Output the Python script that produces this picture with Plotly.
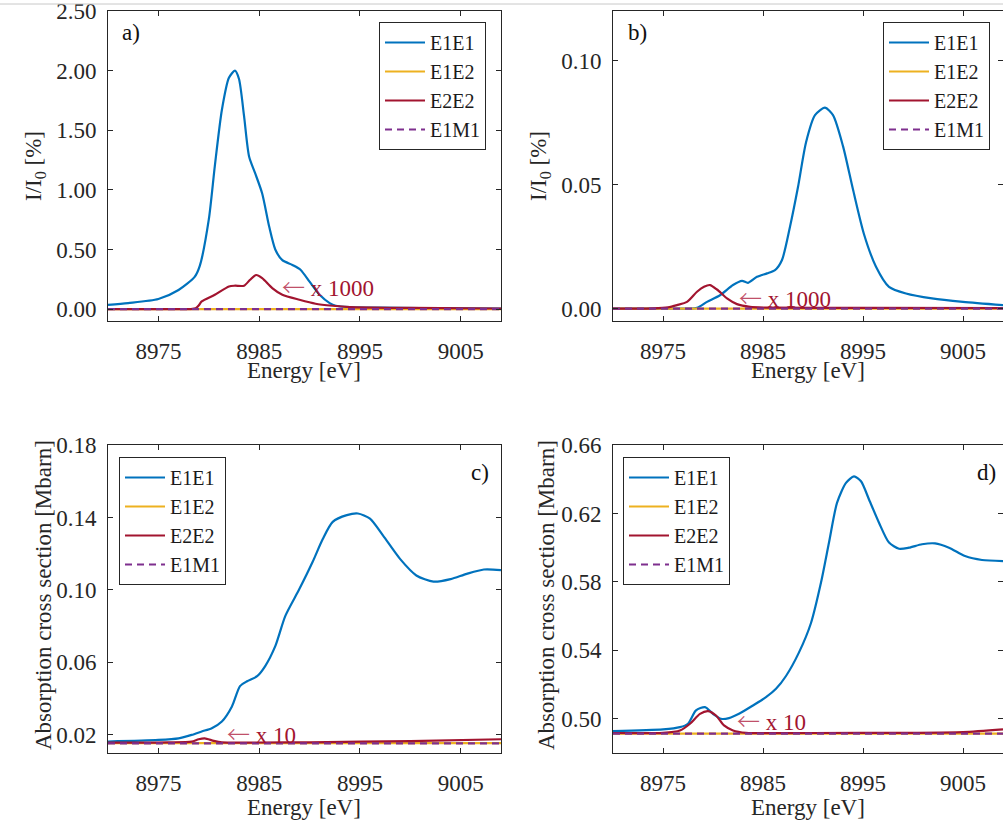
import plotly.graph_objects as go

# ---------------- data ----------------
# Panel a)  I/I0 [%]
a_e1e1_x = [8970, 8972, 8975, 8977, 8978.6, 8979.1, 8980, 8980.6, 8981.3, 8982, 8982.6, 8983,
            8983.5, 8984, 8984.6, 8985.3, 8986, 8986.6, 8987.3, 8988.3, 8989.1, 8990, 8991,
            8992, 8992.6, 8994, 8997, 9001, 9005, 9009]
a_e1e1_y = [0.035, 0.05, 0.084, 0.16, 0.27, 0.36, 0.75, 1.2, 1.67, 1.94, 2.00, 1.93,
            1.62, 1.28, 1.14, 0.97, 0.69, 0.50, 0.41, 0.37, 0.33, 0.23, 0.12,
            0.05, 0.028, 0.017, 0.012, 0.009, 0.007, 0.005]
a_e2e2_x = [8970, 8974, 8977, 8978.2, 8978.7, 8979.0, 8979.3, 8980.6, 8982, 8982.6, 8983.5,
            8984.1, 8984.7, 8985.3, 8986.3, 8987.3, 8989, 8990.6, 8992.3, 8994, 9000, 9009]
a_e2e2_y_x1000 = [0, 0, 0, 0, 0.006, 0.03, 0.064, 0.12, 0.19, 0.196, 0.196,
                  0.246, 0.286, 0.26, 0.176, 0.12, 0.078, 0.045, 0.028, 0.017, 0.01, 0.005]
a_flat_x = [8970, 9009]
a_e1e2_y = [0.0, 0.0]
a_e1m1_y = [0.0, 0.0]

# Panel b)  I/I0 [%]
b_e1e1_x = [8970, 8975, 8977.5, 8978.4, 8979.4, 8980.7, 8982, 8982.9, 8983.5, 8984.4, 8985.4,
            8986.2, 8986.9, 8987.7, 8988.5, 8989.3, 8990.2, 8991.2, 8992, 8993, 8994,
            8995.1, 8996.3, 8997.6, 8999.3, 9001.9, 9005, 9009]
b_e1e1_y = [0, 0, 0, 0.0003, 0.0027, 0.0054, 0.0095, 0.0112, 0.0104, 0.0128, 0.0142,
            0.0155, 0.0196, 0.033, 0.049, 0.067, 0.078, 0.081, 0.078, 0.0655, 0.048,
            0.030, 0.0169, 0.0088, 0.0061, 0.0041, 0.0027, 0.0014]
b_e2e2_x = [8970, 8972, 8974, 8975.5, 8976.4, 8977.4, 8978.4, 8979.1, 8979.7, 8980.4, 8981.4,
            8982.4, 8983.7, 8985.4, 8995, 9009]
b_e2e2_y_x1000 = [0, 0, 0.0001, 0.0005, 0.0014, 0.0027, 0.0068, 0.0088, 0.0095, 0.0077, 0.0041,
                  0.0018, 0.0007, 0.0004, 0.0003, 0.0002]
b_flat_x = [8970, 9009]
b_e1e2_y = [0.0, 0.0]
b_e1m1_y = [0.0, 0.0]

# Panel c)  Absorption cross section [Mbarn]
c_e1e1_x = [8970, 8975, 8977, 8978.3, 8979.3, 8980.3, 8981.3, 8982.3, 8983.1, 8983.8,
            8984.8, 8985.6, 8986.6, 8987.6, 8989, 8990.3, 8991.3, 8992.3, 8993.7, 8994.8,
            8996, 8997.3, 8999, 9000.6, 9002.3, 9004, 9005.6, 9007.3, 9009]
c_e1e1_y = [0.0163, 0.0172, 0.0181, 0.020, 0.0219, 0.0237, 0.0274, 0.0357, 0.0469, 0.0496,
            0.0524, 0.058, 0.069, 0.0857, 0.1006, 0.1154, 0.128, 0.1376, 0.1413, 0.1422,
            0.1394, 0.130, 0.117, 0.108, 0.1046, 0.106, 0.1089, 0.1113, 0.111]
c_e2e2_x = [8970, 8976, 8978.3, 8979, 8979.6, 8980.5, 8981.3, 8985, 8990, 9000, 9009]
c_e2e2_y_x10 = [0.0157, 0.0159, 0.0163, 0.0176, 0.0181, 0.0167, 0.0159, 0.0158, 0.0159, 0.0166, 0.0176]
c_flat_x = [8970, 9009]
c_e1e2_y = [0.0155, 0.0155]
c_e1m1_y = [0.0153, 0.0153]

# Panel d)  Absorption cross section [Mbarn]
d_e1e1_x = [8970, 8975, 8976.7, 8977.5, 8978.3, 8979.2, 8980, 8980.8, 8981.6, 8982.6,
            8984, 8985.3, 8986.3, 8987.3, 8988.6, 8989.8, 8990.8, 8991.6, 8992.4, 8993.3,
            8994.1, 8994.8, 8995.6, 8996.6, 8997.6, 8998.6, 8999.6, 9000.9, 9002.2, 9003.6,
            9005.2, 9006.9, 9009]
d_e1e1_y = [0.4928, 0.4938, 0.4951, 0.4971, 0.5049, 0.5068, 0.5029, 0.5000, 0.5004, 0.5029,
            0.5078, 0.5126, 0.5175, 0.5250, 0.5388, 0.5560, 0.5796, 0.6030, 0.6262, 0.6379,
            0.6417, 0.6388, 0.6282, 0.6146, 0.6030, 0.5994, 0.6000, 0.6020, 0.6025, 0.6000,
            0.5951, 0.5928, 0.5922]
d_e2e2_x = [8970, 8975, 8976.7, 8977.7, 8978.7, 8979.5, 8980.3, 8981.1, 8982, 8983.3,
            8990, 9000, 9005, 9009]
d_e2e2_y_x10 = [0.4917, 0.4918, 0.4932, 0.4971, 0.5029, 0.5045, 0.5019, 0.4961, 0.4932, 0.4918,
                0.4917, 0.4918, 0.4922, 0.4938]
d_flat_x = [8970, 9009]
d_e1e2_y = [0.4913, 0.4913]
d_e1m1_y = [0.4913, 0.4913]

series_names = ["E1E1", "E1E2", "E2E2", "E1M1"]
x_ticks = [8975, 8985, 8995, 9005]
a_yticks = [0, 0.5, 1.0, 1.5, 2.0, 2.5]
b_yticks = [0, 0.05, 0.10]
c_yticks = [0.02, 0.06, 0.10, 0.14, 0.18]
d_yticks = [0.50, 0.54, 0.58, 0.62, 0.66]

# ---------------- styling ----------------
W, H = 1003, 838
FONT = "Liberation Serif"
FS = 23
AXC = "#262626"
COLORS = {"E1E1": "#0072BD", "E1E2": "#EDB120", "E2E2": "#A2142F", "E1M1": "#7E2F8E"}


def px_x(px):
    return px / W


def px_y(py):
    return 1 - py / H


fig = go.Figure()

panels = [
    ("x", "y", "legend", a_e1e1_x, a_e1e1_y, a_flat_x, a_e1e2_y, a_e2e2_x, a_e2e2_y_x1000, a_e1m1_y),
    ("x2", "y2", "legend2", b_e1e1_x, b_e1e1_y, b_flat_x, b_e1e2_y, b_e2e2_x, b_e2e2_y_x1000, b_e1m1_y),
    ("x3", "y3", "legend3", c_e1e1_x, c_e1e1_y, c_flat_x, c_e1e2_y, c_e2e2_x, c_e2e2_y_x10, c_e1m1_y),
    ("x4", "y4", "legend4", d_e1e1_x, d_e1e1_y, d_flat_x, d_e1e2_y, d_e2e2_x, d_e2e2_y_x10, d_e1m1_y),
]

for xa, ya, lg, e11x, e11y, fx, e12y, e22x, e22y, m1y in panels:
    fig.add_trace(go.Scatter(x=e11x, y=e11y, mode="lines", name=series_names[0], xaxis=xa, yaxis=ya, legend=lg,
                             line=dict(color=COLORS["E1E1"], width=2.2, shape="spline", smoothing=0.7)))
    fig.add_trace(go.Scatter(x=fx, y=e12y, mode="lines", name=series_names[1], xaxis=xa, yaxis=ya, legend=lg,
                             line=dict(color=COLORS["E1E2"], width=2.2)))
    fig.add_trace(go.Scatter(x=e22x, y=e22y, mode="lines", name=series_names[2], xaxis=xa, yaxis=ya, legend=lg,
                             line=dict(color=COLORS["E2E2"], width=2.2, shape="spline", smoothing=0.7)))
    fig.add_trace(go.Scatter(x=fx, y=m1y, mode="lines", name=series_names[3], xaxis=xa, yaxis=ya, legend=lg,
                             line=dict(color=COLORS["E1M1"], width=2.2, dash="7px,5px")))

xdom_left = [px_x(108), px_x(501)]
xdom_right = [px_x(613), 1.0]
ydom_top = [px_y(321), px_y(11)]
ydom_bot = [px_y(753), px_y(445)]


def xaxis(anchor, dom):
    return dict(domain=dom, anchor=anchor, range=[8970, 9009], tickvals=x_ticks,
                ticks="inside", ticklen=5, tickwidth=1, tickcolor=AXC, mirror="ticks",
                showline=True, linecolor=AXC, linewidth=1, showgrid=False, zeroline=False,
                automargin=False, ticklabeloverflow="allow",
                tickfont=dict(family=FONT, size=FS, color=AXC), ticklabelstandoff=9)


def yaxis(anchor, dom, rng, vals):
    return dict(domain=dom, anchor=anchor, range=rng, tickvals=vals, tickformat=".2f",
                ticks="inside", ticklen=5, tickwidth=1, tickcolor=AXC, mirror="ticks",
                showline=True, linecolor=AXC, linewidth=1, showgrid=False, zeroline=False,
                automargin=False, ticklabeloverflow="allow",
                tickfont=dict(family=FONT, size=FS, color=AXC), ticklabelstandoff=6)


def legend(xpx, ypx):
    return dict(x=px_x(xpx), y=px_y(ypx), xanchor="left", yanchor="top", xref="paper", yref="paper",
                bgcolor="white", bordercolor=AXC, borderwidth=1,
                font=dict(family=FONT, size=20, color="#1a1a1a"), itemwidth=40,
                tracegroupgap=0)


annotations = []
for cx, cy in [(304, 371), (808, 371), (304, 807), (808, 807)]:
    annotations.append(dict(text="Energy [eV]", x=px_x(cx), y=px_y(cy), xref="paper", yref="paper",
                            showarrow=False, xanchor="center", yanchor="middle",
                            font=dict(family=FONT, size=FS, color=AXC)))
for txt, cx, cy in [("I/I<sub>0</sub> [%]", 35, 166), ("I/I<sub>0</sub> [%]", 540, 166),
                    ("Absorption cross section [Mbarn]", 43, 595),
                    ("Absorption cross section [Mbarn]", 546, 595)]:
    annotations.append(dict(text=txt, x=px_x(cx), y=px_y(cy), xref="paper", yref="paper",
                            showarrow=False, xanchor="center", yanchor="middle", textangle=-90,
                            font=dict(family=FONT, size=FS, color=AXC)))
for txt, cx, cy in [("a)", 131, 32), ("b)", 637, 32), ("c)", 480, 472), ("d)", 986, 472)]:
    annotations.append(dict(text=txt, x=px_x(cx), y=px_y(cy), xref="paper", yref="paper",
                            showarrow=False, xanchor="center", yanchor="middle",
                            font=dict(family=FONT, size=FS, color="#111111")))

ARROW = '<span style="font-family:Noto Sans CJK JP;font-weight:300;color:#c0506a">\u2190</span>'
for txt, xr, yr, xv, yv in [(ARROW + " x 1000", "x", "y", 8987.1, 0.19),
                            (ARROW + " x 1000", "x2", "y2", 8982.4, 0.0047),
                            (ARROW + " x 10", "x3", "y3", 8981.6, 0.0212),
                            (ARROW + " x 10", "x4", "y4", 8982.2, 0.4992)]:
    annotations.append(dict(text=txt, x=xv, y=yv, xref=xr, yref=yr, showarrow=False,
                            xanchor="left", yanchor="middle",
                            font=dict(family=FONT, size=FS, color=COLORS["E2E2"])))

fig.update_layout(
    width=W, height=H, margin=dict(l=0, r=0, t=0, b=0, autoexpand=False),
    paper_bgcolor="white", plot_bgcolor="white",
    font=dict(family=FONT),
    showlegend=True,
    xaxis=xaxis("y", xdom_left), yaxis=yaxis("x", ydom_top, [-0.1, 2.5002], a_yticks),
    xaxis2=xaxis("y2", xdom_right), yaxis2=yaxis("x2", ydom_top, [-0.005, 0.12], b_yticks),
    xaxis3=xaxis("y3", xdom_left), yaxis3=yaxis("x3", ydom_bot, [0.01, 0.18002], c_yticks),
    xaxis4=xaxis("y4", xdom_right), yaxis4=yaxis("x4", ydom_bot, [0.48, 0.66002], d_yticks),
    legend=legend(379, 22), legend2=legend(883, 22), legend3=legend(119, 457), legend4=legend(623, 457),
    annotations=annotations,
    shapes=[dict(type="line", xref="paper", yref="paper", x0=0, x1=1, y0=px_y(4), y1=px_y(4),
                 line=dict(color="#c8c8c8", width=1))],
)

fig.write_html("out.html", config={"displayModeBar": False},
               post_script="document.body.style.margin='0px';document.body.style.overflow='hidden';")
